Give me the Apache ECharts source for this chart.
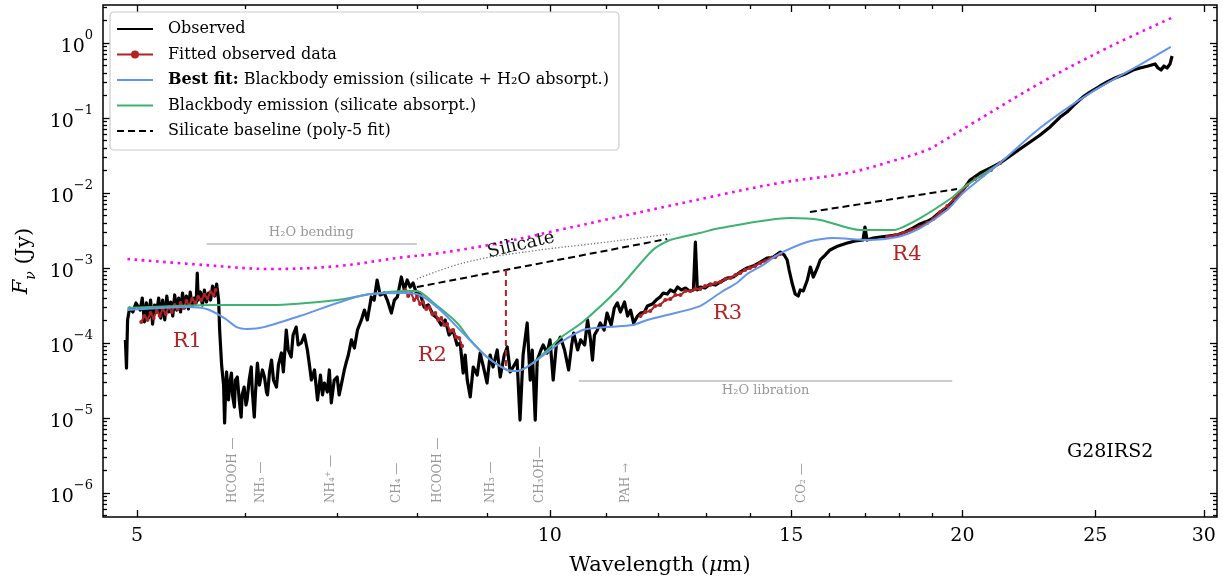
<!DOCTYPE html>
<html><head><meta charset="utf-8">
<script src="https://cdn.jsdelivr.net/npm/echarts@6/dist/echarts.min.js"></script>
<style>html,body{margin:0;padding:0;background:#fff}#c{width:1223px;height:586px}</style>
</head><body><div id="c"></div>
<script>
// ---------------- data (wavelength in micron, flux in Jy) ----------------
const observed = [
[4.903,1.10e-4],[4.912,4.64e-5],[4.921,2.03e-4],[4.938,2.93e-4],[4.965,2.59e-4],[4.991,3.42e-4],
[5.026,2.75e-4],[5.044,3.98e-4],[5.062,1.91e-4],[5.079,3.42e-4],[5.097,2.15e-4],[5.115,3.74e-4],[5.132,1.79e-4],[5.150,3.21e-4],[5.168,2.59e-4],[5.185,3.98e-4],
[5.203,2.15e-4],[5.220,3.74e-4],[5.238,2.03e-4],[5.256,4.23e-4],[5.273,2.59e-4],[5.291,3.52e-4],[5.309,2.29e-4],[5.326,4.37e-4],[5.344,2.75e-4],[5.362,3.98e-4],
[5.379,2.59e-4],[5.397,4.64e-4],[5.414,2.93e-4],[5.432,4.23e-4],[5.450,2.84e-4],[5.467,4.79e-4],[5.485,3.11e-4],[5.503,3.98e-4],[5.522,3.42e-4],[5.532,8.58e-4],
[5.541,3.74e-4],[5.561,4.79e-4],[5.580,3.21e-4],[5.599,5.09e-4],[5.618,3.52e-4],[5.638,4.64e-4],[5.657,3.74e-4],[5.676,5.75e-4],[5.696,4.23e-4],[5.715,6.12e-4],
[5.734,3.74e-4],[5.744,1.49e-4],[5.763,5.09e-5],[5.782,2.75e-5],[5.792,8.58e-6],[5.802,2.36e-5],[5.811,4.11e-5],[5.830,1.74e-5],[5.840,2.75e-5],[5.859,3.98e-5],
[5.869,2.03e-5],[5.888,1.40e-5],[5.898,3.21e-5],[5.917,3.52e-5],[5.936,1.74e-5],[5.955,1.03e-5],[5.965,2.03e-5],[5.985,2.59e-5],[6.004,1.49e-5],[6.015,1.74e-5],
[6.036,3.21e-5],[6.057,4.79e-5],[6.067,2.36e-5],[6.088,1.03e-5],[6.099,2.03e-5],[6.120,5.41e-5],[6.141,2.75e-5],[6.151,3.21e-5],[6.172,4.37e-5],[6.193,3.52e-5],
[6.214,2.22e-5],[6.225,2.03e-5],[6.246,4.11e-5],[6.267,5.93e-5],[6.288,3.21e-5],[6.319,2.59e-5],[6.340,5.09e-5],[6.372,7.36e-5],[6.393,4.11e-5],[6.424,1.49e-4],
[6.445,8.07e-5],[6.477,6.51e-5],[6.498,1.28e-4],[6.532,1.63e-4],[6.554,9.41e-5],[6.588,1.00e-4],[6.622,1.28e-4],[6.656,8.07e-5],[6.679,5.09e-5],[6.701,3.21e-5],
[6.736,4.37e-5],[6.770,1.74e-5],[6.804,3.74e-5],[6.827,2.03e-5],[6.849,2.93e-5],[6.883,2.22e-5],[6.906,4.37e-5],[6.929,1.59e-5],[6.963,3.21e-5],[6.997,3.52e-5],
[7.021,2.03e-5],[7.045,2.75e-5],[7.082,4.37e-5],[7.106,5.58e-5],[7.130,6.92e-5],[7.167,1.10e-4],[7.203,8.58e-5],[7.240,1.49e-4],[7.288,2.03e-4],[7.325,2.75e-4],
[7.361,2.03e-4],[7.410,4.11e-4],[7.446,3.74e-4],[7.483,6.92e-4],[7.521,4.37e-4],[7.573,4.64e-4],[7.612,3.74e-4],[7.664,2.51e-4],[7.703,3.74e-4],[7.742,4.11e-4],
[7.794,7.59e-4],[7.833,5.09e-4],[7.871,6.92e-4],[7.910,5.58e-4],[7.949,6.31e-4],[8.001,4.37e-4],[8.043,4.64e-4],[8.098,3.02e-4],[8.154,3.21e-4],[8.223,2.36e-4],
[8.278,2.15e-4],[8.334,1.74e-4],[8.389,2.03e-4],[8.445,1.28e-4],[8.500,1.49e-4],[8.559,9.41e-5],[8.603,1.00e-4],[8.647,3.98e-5],[8.676,6.92e-5],[8.706,3.21e-5],
[8.750,1.91e-5],[8.794,4.79e-5],[8.853,3.74e-5],[8.897,7.36e-5],[8.956,4.37e-5],[9.000,2.93e-5],[9.047,6.92e-5],[9.093,4.79e-5],[9.155,8.07e-5],[9.202,3.52e-5],
[9.264,6.92e-5],[9.311,8.85e-5],[9.357,4.11e-5],[9.404,4.79e-5],[9.466,5.93e-5],[9.513,9.40e-6],[9.562,6.92e-5],[9.628,1.85e-4],[9.677,3.21e-5],[9.710,8.07e-5],
[9.759,9.40e-6],[9.792,5.93e-5],[9.841,7.59e-5],[9.890,9.41e-5],[9.956,7.36e-5],[10.005,1.10e-4],[10.058,3.21e-5],[10.111,9.41e-5],[10.181,1.20e-4],[10.252,8.07e-5],
[10.322,4.37e-5],[10.375,9.41e-5],[10.410,1.36e-4],[10.480,8.07e-5],[10.533,1.10e-4],[10.604,9.41e-5],[10.656,2.03e-4],[10.709,1.10e-4],[10.744,5.93e-5],[10.780,1.28e-4],
[10.833,1.49e-4],[10.885,1.85e-4],[10.956,1.49e-4],[11.010,2.51e-4],[11.087,1.74e-4],[11.145,2.93e-4],[11.203,3.42e-4],[11.261,2.59e-4],[11.338,3.52e-4],[11.396,2.29e-4],
[11.454,2.75e-4],[11.512,1.85e-4],[11.589,2.29e-4],[11.647,2.51e-4],[11.724,2.59e-4],[11.782,3.11e-4],[11.879,3.31e-4],[11.956,3.74e-4],[12.036,4.11e-4],[12.099,4.64e-4],
[12.183,4.50e-4],[12.246,5.09e-4],[12.330,4.79e-4],[12.393,5.58e-4],[12.477,5.09e-4],[12.561,5.41e-4],[12.645,4.94e-4],[12.729,5.09e-4],[12.771,2.22e-3],[12.813,5.09e-4],
[12.876,5.58e-4],[12.981,5.41e-4],[13.093,6.12e-4],[13.206,5.93e-4],[13.319,6.51e-4],[13.477,7.36e-4],[13.613,7.59e-4],[13.771,8.85e-4],[13.930,1.00e-3],[14.071,1.06e-3],
[14.241,1.20e-3],[14.412,1.36e-3],[14.558,1.40e-3],[14.729,1.63e-3],[14.826,1.49e-3],[14.900,1.28e-3],[14.949,9.41e-4],[15.023,6.31e-4],[15.101,4.50e-4],[15.179,4.23e-4],
[15.231,5.09e-4],[15.309,4.94e-4],[15.413,6.92e-4],[15.491,1.03e-3],[15.569,7.59e-4],[15.673,1.00e-3],[15.751,1.28e-3],[15.881,1.49e-3],[16.011,1.74e-3],[16.233,1.97e-3],
[16.482,2.15e-3],[16.704,2.29e-3],[16.925,2.36e-3],[16.980,3.52e-3],[17.038,2.36e-3],[17.215,2.51e-3],[17.421,2.59e-3],[17.656,2.67e-3],[17.918,2.75e-3],[18.165,3.02e-3],
[18.410,3.42e-3],[18.630,3.86e-3],[18.783,4.11e-3],[18.876,4.23e-3],[19.036,4.64e-3],[19.266,5.58e-3],[19.495,6.51e-3],[19.757,8.32e-3],[20.021,1.10e-2],[20.261,1.49e-2],
[20.605,1.85e-2],[20.948,2.15e-2],[21.307,2.51e-2],[21.668,3.11e-2],[22.030,3.86e-2],[22.409,4.79e-2],[22.788,5.93e-2],[23.173,7.59e-2],[23.567,0.103],[23.842,0.120],
[24.165,0.154],[24.494,0.191],[24.782,0.222],[25.202,0.267],[25.502,0.302],[25.845,0.342],[26.284,0.386],[26.640,0.437],[26.951,0.464],[27.318,0.494],
[27.641,0.525],[27.779,0.464],[27.917,0.437],[28.057,0.494],[28.201,0.464],[28.344,0.525],[28.440,0.671]
];
const fitR1 = [[5.035,1.91e-4],[5.062,2.29e-4],[5.088,2.03e-4],[5.115,2.51e-4],[5.141,2.15e-4],[5.168,2.67e-4],[5.194,2.29e-4],[5.220,2.84e-4],[5.247,2.44e-4],[5.273,3.02e-4],[5.300,2.59e-4],[5.326,3.21e-4],[5.353,2.84e-4],[5.379,3.42e-4],[5.406,2.93e-4],[5.432,3.63e-4],[5.459,3.21e-4],[5.485,3.86e-4],[5.513,3.42e-4],[5.541,4.11e-4],[5.570,3.74e-4],[5.599,4.37e-4],[5.628,3.98e-4],[5.657,4.79e-4],[5.686,4.37e-4],[5.705,5.09e-4]];
const fitR2 = [[7.845,5.09e-4],[7.884,4.23e-4],[7.923,4.64e-4],[7.962,3.74e-4],[8.001,4.11e-4],[8.043,3.31e-4],[8.084,3.52e-4],[8.126,2.84e-4],[8.168,3.02e-4],[8.209,2.44e-4],[8.251,2.51e-4],[8.292,2.03e-4],[8.334,2.15e-4],[8.375,1.74e-4],[8.417,1.79e-4],[8.458,1.45e-4],[8.500,1.49e-4],[8.544,1.20e-4],[8.588,1.17e-4],[8.632,9.12e-5]];
const fitR3 = [[11.647,2.29e-4],[11.743,2.59e-4],[11.840,2.67e-4],[11.936,3.11e-4],[12.036,3.21e-4],[12.141,3.74e-4],[12.246,3.86e-4],[12.351,4.37e-4],[12.456,4.37e-4],[12.561,4.94e-4],[12.666,4.94e-4],[12.771,5.25e-4],[12.876,5.25e-4],[12.981,5.75e-4],[13.093,5.93e-4],[13.206,6.31e-4],[13.319,6.51e-4],[13.432,7.13e-4],[13.545,7.36e-4],[13.658,8.07e-4],[13.771,8.58e-4],[13.884,9.41e-4],[13.998,1.00e-3],[14.120,1.06e-3],[14.241,1.17e-3],[14.363,1.24e-3],[14.485,1.36e-3],[14.607,1.40e-3],[14.729,1.54e-3]];
const fitR4 = [[17.626,2.59e-3],[17.862,2.75e-3],[18.102,2.93e-3],[18.351,3.21e-3],[18.599,3.52e-3],[18.848,3.98e-3],[19.036,4.50e-3],[19.266,5.58e-3],[19.495,6.71e-3],[19.725,8.32e-3],[19.954,1.03e-2],[20.158,1.28e-2],[20.433,1.54e-2],[20.708,1.74e-2],[20.983,2.03e-2],[21.307,2.51e-2]];
const bestFit = [[4.92,2.75e-4],[5.44,3.02e-4],[5.62,2.84e-4],[5.79,2.15e-4],[5.91,1.63e-4],[6.02,1.54e-4],[6.19,1.63e-4],[6.57,2.29e-4],[7.32,4.37e-4],[7.83,4.64e-4],[8.04,4.37e-4],[8.32,2.75e-4],[8.70,1.20e-4],[9.0,6.5e-5],[9.31,4.37e-5],[9.47,4.23e-5],[9.72,5.41e-5],[10.17,1.0e-4],[10.57,1.49e-4],[11.01,1.63e-4],[11.5,1.74e-4],[11.78,2.03e-4],[12.18,2.36e-4],[12.87,3.11e-4],[13.31,4.64e-4],[13.72,6.51e-4],[13.93,8.32e-4],[14.31,1.10e-3],[14.65,1.49e-3],[15.41,2.22e-3],[16.1,2.51e-3],[17.04,2.36e-3],[17.92,2.59e-3],[18.63,3.41e-3],[19.49,5.93e-3],[20.02,1.0e-2],[21.3,2.51e-2],[22.78,7.36e-2],[24.78,0.215],[26.94,0.509],[28.38,0.885]];
const silOnly = [[4.92,2.93e-4],[5.69,3.21e-4],[6.26,3.21e-4],[7.0,3.75e-4],[7.41,4.5e-4],[7.83,4.93e-4],[8.0,4.93e-4],[8.23,3.41e-4],[8.56,1.85e-4],[8.75,1.1e-4],[9.0,6.5e-5],[9.31,4.37e-5],[9.47,4.23e-5],[9.72,5.41e-5],[10.2,1.2e-4],[10.57,1.91e-4],[11.2,5.09e-4],[11.89,1.74e-3],[12.24,2.36e-3],[12.87,2.93e-3],[13.31,3.41e-3],[14.97,4.64e-3],[15.75,4.37e-3],[16.84,3.21e-3],[17.8,3.21e-3],[18.63,4.64e-3],[19.68,8.85e-3],[20.02,1.17e-2],[21.3,2.51e-2]];
const envelope = [[4.92,1.318e-3],[5.60,1.096e-3],[6.26,9.7e-4],[7.0,1.06e-3],[7.83,1.40e-3],[8.23,1.54e-3],[9.20,2.16e-3],[10.0,3.02e-3],[13.3,9.4e-3],[14.7,1.36e-2],[16.5,1.85e-2],[17.7,2.60e-2],[18.85,3.74e-2],[19.26,4.64e-2],[20.36,8.58e-2],[22.8,0.293],[25.5,0.858],[28.4,2.15]];
const silArc = [[8.0,7.13e-4],[8.70,1.2e-3],[9.72,1.69e-3],[10.88,2.16e-3],[12.24,2.84e-3]];
const baselineA = [[8.0,5.58e-4],[12.18,2.44e-3]];
const baselineB = [[15.48,5.58e-3],[19.82,1.13e-2]];
const silDepth = [[9.29,9.4e-4],[9.29,4.37e-5]];
const h2oBend = [[5.62,2.09e-3],[8.0,2.09e-3]];
const h2oLib = [[10.50,3.11e-5],[19.66,3.11e-5]];
const regionLabels = [['R1',5.44,1.06e-4],['R2',8.21,6.71e-5],['R3',13.48,2.44e-4],['R4',18.22,1.49e-3]];
const molecules = [['HCOOH —',5.87],['NH₃ —',6.16],['NH₄⁺ —',6.92],['CH₄ —',7.74],['HCOOH —',8.29],['NH₃ —',9.06],['CH₃OH—',9.83],['PAH →',11.36],['CO₂ —',15.28]];
const xMajor = [5,10,15,20,25,30];
const xMinor = [6,7,8,9,11,12,13,14,16,17,18,19];
const yMajor = [1e-6,1e-5,1e-4,1e-3,1e-2,1e-1,1];
const yMinor = [];
for (let e = -7; e <= 0; e++) for (let m = 2; m <= 9; m++) yMinor.push(+(m * Math.pow(10, e)).toPrecision(3));
const X_MIN = 4.722, X_MAX = 30.67, Y_MIN = 4.79e-7, Y_MAX = 3.21;
const MOL_Y = 7.36e-7;

// ---------------- chart ----------------
const FONT = 'DejaVu Serif';
const chart = echarts.init(document.getElementById('c'), null, {renderer: 'canvas'});
function xAx(pos, major) {
  return {
    type: 'log', min: X_MIN, max: X_MAX, position: pos, gridIndex: 0,
    axisLine: {show: false, onZero: false},
    axisTick: {show: true, inside: true, length: major ? 7 : 4, customValues: major ? xMajor : xMinor, lineStyle: {color: '#000', width: 1.3}},
    axisLabel: (major && pos === 'bottom') ? {show: true, customValues: xMajor, margin: 10, fontFamily: FONT, fontSize: 19, color: '#000'} : {show: false},
    splitLine: {show: false}, minorTick: {show: false}, minorSplitLine: {show: false}
  };
}
function yAx(pos, major) {
  return {
    type: 'log', min: Y_MIN, max: Y_MAX, position: pos, gridIndex: 0,
    axisLine: {show: false, onZero: false},
    axisTick: {show: true, inside: true, length: major ? 7 : 4, customValues: major ? yMajor : yMinor, lineStyle: {color: '#000', width: 1.3}},
    axisLabel: (major && pos === 'left') ? {
      show: true, customValues: yMajor, margin: 10,
      formatter: v => { const e = Math.round(Math.log10(v)); return '{b|10}{s|' + (e < 0 ? '−' + (-e) : e) + '}'; },
      rich: {b: {fontFamily: FONT, fontSize: 19, color: '#000', lineHeight: 27, verticalAlign: 'bottom'},
             s: {fontFamily: FONT, fontSize: 13, color: '#000', lineHeight: 14, verticalAlign: 'top'}}
    } : {show: false},
    splitLine: {show: false}, minorTick: {show: false}, minorSplitLine: {show: false}
  };
}
const xAxes = [xAx('bottom', true), xAx('bottom', false), xAx('top', true), xAx('top', false)];
xAxes[0].name = 'Wavelength ({i|μ}m)';
xAxes[0].nameLocation = 'middle';
xAxes[0].nameGap = 38;
xAxes[0].nameTextStyle = {fontFamily: FONT, fontSize: 21, color: '#000', rich: {i: {fontFamily: FONT, fontSize: 21, fontStyle: 'italic', color: '#000'}}};
const yAxes = [yAx('left', true), yAx('left', false), yAx('right', true), yAx('right', false)];
yAxes[0].name = '{i|F}{sub|ν} (Jy)';
yAxes[0].nameLocation = 'middle';
yAxes[0].nameGap = 60;
yAxes[0].nameRotate = 90;
yAxes[0].nameTextStyle = {fontFamily: FONT, fontSize: 21, color: '#000', rich: {
  i: {fontFamily: FONT, fontSize: 21, fontStyle: 'italic', color: '#000', lineHeight: 28, verticalAlign: 'top'},
  sub: {fontFamily: FONT, fontSize: 14, fontStyle: 'italic', color: '#000', lineHeight: 14, verticalAlign: 'bottom'}}};

const L = (name, data, color, width, extra) => Object.assign({
  type: 'line', name, data, xAxisIndex: 0, yAxisIndex: 0, showSymbol: false, symbol: 'none',
  lineStyle: {color, width}, itemStyle: {color}, animation: false, silent: true
}, extra || {});
const RED = '#b22222';
const fit = (d) => ({type: 'line', name: 'Fitted observed data', data: d, symbol: 'circle', symbolSize: 4, showSymbol: true,
  lineStyle: {color: RED, width: 2}, itemStyle: {color: RED}, animation: false, silent: true, z: 3});
const txt = (data, label, extra) => Object.assign({type: 'scatter', data, symbol: 'circle', symbolSize: 1,
  itemStyle: {color: 'rgba(255,255,255,0)'}, silent: true, animation: false,
  label: Object.assign({show: true, formatter: '{b}', fontFamily: FONT, opacity: 1, textBorderWidth: 0}, label), labelLayout: {hideOverlap: false}, z: 6}, extra || {});

const legendNames = {
  'Observed': 'Observed',
  'Fitted observed data': 'Fitted observed data',
  'BestFit': '{b|Best fit:} Blackbody emission (silicate + H₂O absorpt.)',
  'Blackbody emission (silicate absorpt.)': 'Blackbody emission (silicate absorpt.)',
  'Silicate baseline (poly-5 fit)': 'Silicate baseline (poly-5 fit)'
};
const noSym = {opacity: 0};

chart.setOption({
  animation: false,
  backgroundColor: '#fff',
  grid: {left: 103, right: 6, top: 5, bottom: 69, show: true, borderColor: '#000', borderWidth: 1.5, backgroundColor: 'transparent'},
  xAxis: xAxes,
  yAxis: yAxes,
  legend: {
    show: true, orient: 'vertical', left: 110, top: 12,
    data: [
      {name: 'Observed', itemStyle: noSym},
      {name: 'Fitted observed data'},
      {name: 'BestFit', itemStyle: noSym},
      {name: 'Blackbody emission (silicate absorpt.)', itemStyle: noSym},
      {name: 'Silicate baseline (poly-5 fit)', itemStyle: noSym}
    ],
    itemWidth: 36, itemHeight: 10, itemGap: 5.5,
    padding: [7, 10, 9, 6],
    backgroundColor: 'rgba(255,255,255,0.85)', borderColor: '#cccccc', borderWidth: 1.2, borderRadius: 4,
    formatter: n => legendNames[n] || n,
    textStyle: {fontFamily: FONT, fontSize: 16, color: '#000', lineHeight: 20, padding: [0, 0, 0, 10],
      rich: {b: {fontFamily: FONT, fontSize: 16, fontWeight: 'bold', color: '#000'}}},
    selectedMode: false
  },
  series: [
    L('Observed', observed, '#000', 3, {z: 2, lineStyle: {color: '#000', width: 3.2, join: 'round'}}),
    fit(fitR1), fit(fitR2), fit(fitR3), fit(fitR4),
    L('Blackbody emission (silicate absorpt.)', silOnly, '#3cb371', 2, {z: 4, smooth: 0.25}),
    L('BestFit', bestFit, '#6495ed', 2, {z: 5, smooth: 0.25}),
    L('Silicate baseline (poly-5 fit)', baselineA, '#000', 2, {z: 5, lineStyle: {color: '#000', width: 2, type: [7, 4]}}),
    L('Silicate baseline (poly-5 fit)', baselineB, '#000', 2, {z: 5, lineStyle: {color: '#000', width: 2, type: [7, 4]}}),
    L('envelope', envelope, '#ff00ff', 2.5, {z: 5, smooth: 0.35, lineStyle: {color: '#ff00ff', width: 2.6, type: [2.6, 4.6]}}),
    L('silArc', silArc, '#777', 1.2, {z: 5, smooth: 0.4, lineStyle: {color: '#777', width: 1.3, type: [1.3, 2]}}),
    L('silDepth', silDepth, RED, 2, {z: 5, lineStyle: {color: RED, width: 2, type: [6, 4]}}),
    L('h2oBend', h2oBend, '#bbb', 1.5, {z: 1}),
    L('h2oLib', h2oLib, '#bbb', 1.5, {z: 1}),
    txt(regionLabels.map(r => ({name: r[0], value: [r[1], r[2]]})), {position: 'inside', fontSize: 21, color: '#b22222'}),
    txt([{name: 'G28IRS2', value: [25.63, 3.52e-6]}], {position: 'inside', fontSize: 19, color: '#000'}),
    txt([{name: 'Silicate', value: [9.53, 2.03e-3]}], {position: 'inside', fontSize: 18, color: '#111', rotate: 13}),
    txt([{name: 'H₂O bending', value: [6.70, 2.09e-3]}], {position: 'top', distance: 4, fontSize: 13, color: '#999'}),
    txt([{name: 'H₂O libration', value: [14.37, 3.11e-5]}], {position: 'bottom', distance: 3, fontSize: 13, color: '#999'}),
    txt(molecules.map(m => ({name: m[0], value: [m[1], MOL_Y]})), {position: 'inside', fontSize: 12, color: '#999', rotate: 90, align: 'left', verticalAlign: 'middle'})
  ]
});
</script></body></html>
